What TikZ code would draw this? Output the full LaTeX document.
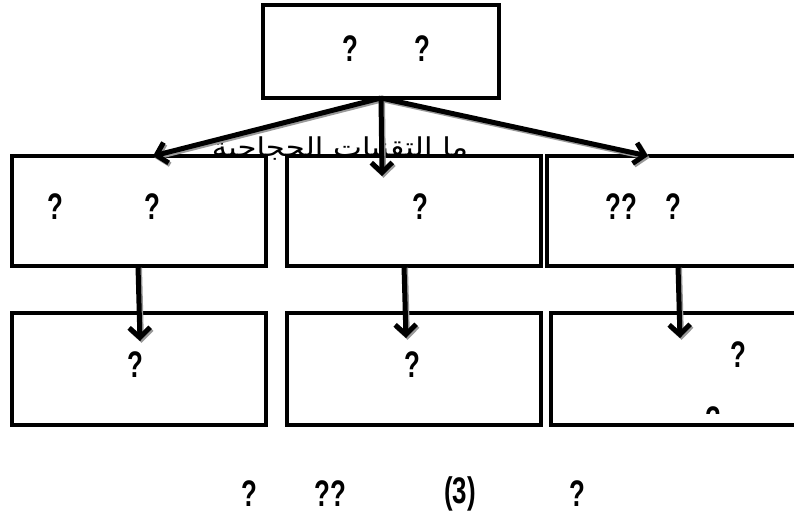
\documentclass[tikz,border=0pt]{standalone}
\usepackage{fontspec}
\usetikzlibrary{arrows.meta,calc}
\TeXXeTstate=1
\newfontfamily\qfont[FakeStretch=0.7]{Liberation Sans Bold}
\newfontfamily\arabicfont[Script=Arabic]{DejaVu Sans}

\begin{document}
\begin{tikzpicture}[x=1pt,y=-1pt,
  box/.style={draw, line width=3.5pt, fill=white, inner sep=0pt, outer sep=0pt,
              minimum width=254pt},
  qmark/.style={font=\qfont\fontsize{37}{40}\selectfont, inner sep=0pt},
  link/.style={line width=5pt, -{Straight Barb[length=10pt,width=21pt]}},
  linkshadow/.style={link, draw=black!40, transform canvas={shift={(1.5pt,-1.8pt)}}}]

% page frame
\useasboundingbox (0,0) rectangle (794,521);
\clip (0,0) rectangle (794,521);

% question heading, partly hidden behind the boxes
\node[anchor=base, inner sep=0pt, font=\arabicfont\fontsize{26}{28}\selectfont]
  (heading) at (340,157) {\scalebox{1.18}[1]{\beginR ما التقنيات الحجاجية\endR}};

% boxes
\node[box, minimum width=236pt, minimum height=93pt] (top) at (381,51.5) {};
\node[box, minimum height=110pt] (L2) at (139,211) {};
\node[box, minimum height=110pt] (M2) at (414,211) {};
\node[box, minimum height=110pt] (R2) at (674,211) {};
\node[box, minimum height=112pt] (L3) at (139,369) {};
\node[box, minimum height=112pt] (M3) at (414,369) {};
\node[box, minimum height=112pt] (R3) at (678,369) {};

% connectors: grey shadow first, black on top
\foreach \s in {linkshadow,link}{
  \draw[\s] (top.south) -- ([xshift=14pt]L2.north);
  \draw[\s] (top.south) -- ($(M2.north)+(-32,20)$);
  \draw[\s] (top.south) -- ([xshift=-26pt]R2.north);
  \draw[\s] ([xshift=-1pt]L2.south) -- ($(L3.north)+(1,28)$);
  \draw[\s] ([xshift=-10pt]M2.south) -- ($(M3.north)+(-8,25)$);
  \draw[\s] ([xshift=4pt]R2.south) -- ($(R3.north)+(2,25)$);
}

% texts
\node[qmark] (t1) at (350,49) {?};
\node[qmark] (t2) at (422,49) {?};

\node[qmark] (a1) at (55,207) {?};
\node[qmark] (a2) at (152,207) {?};
\node[qmark] (b1) at (420,207) {?};
\node[qmark] (c1) at (621,207) {??};
\node[qmark] (c2) at (673,207) {?};

\node[qmark] (d1) at (135,365) {?};
\node[qmark] (e1) at (412,365) {?};
\node[qmark] (f1) at (738,355) {?};
\begin{scope}
  \clip (553,315) rectangle (794,413);
  \node[qmark] (f2) at (713,420) {?};
\end{scope}

\node[qmark] (g1) at (249,494) {?};
\node[qmark] (g2) at (330,494) {??};
\node[qmark] (g3) at (460,494) {(3)};
\node[qmark] (g4) at (577,494) {?};
\end{tikzpicture}
\end{document}
